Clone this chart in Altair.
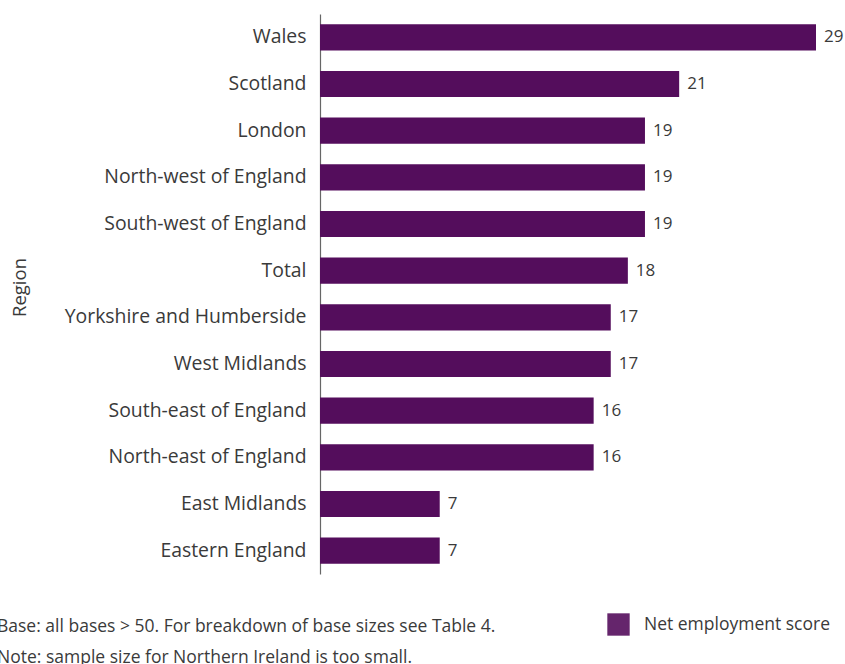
import altair as alt
import pandas as pd

regions = ["Wales", "Scotland", "London", "North-west of England", "South-west of England",
           "Total", "Yorkshire and Humberside", "West Midlands", "South-east of England",
           "North-east of England", "East Midlands", "Eastern England"]
scores = [29, 21, 19, 19, 19, 18, 17, 17, 16, 16, 7, 7]
series = "Net employment score"
notes = ["Base: all bases > 50. For breakdown of base sizes see Table 4.",
         "Note: sample size for Northern Ireland is too small."]

df = pd.DataFrame({"Region": regions, "Score": scores, "Series": [series] * len(regions)})

FONT = "Open Sans"
TXT = "#3a3a3a"
BAR = "#540d5c"

y = alt.Y("Region:N", sort=regions, title="Region",
          scale=alt.Scale(paddingInner=0.44, paddingOuter=0.22),
          axis=alt.Axis(ticks=False, labelFontSize=19.4, labelColor=TXT, labelFont=FONT,
                        labelPadding=14, labelLimit=400, domainColor="#666666", domainWidth=1.2,
                        titleFont=FONT, titleFontSize=18.5, titleFontWeight="normal",
                        titleColor=TXT, titleX=-301, titleY=273, titleAngle=270,
                        titleBaseline="middle", titleAlign="center"))
x = alt.X("Score:Q", scale=alt.Scale(domain=[0, 29], nice=False), axis=None)

bars = alt.Chart(df).mark_bar().encode(
    x=x, y=y,
    color=alt.Color("Series:N", scale=alt.Scale(range=[BAR]),
                    legend=alt.Legend(title=None, orient="none", legendX=287, legendY=599,
                                      symbolType="square", symbolSize=500, symbolOpacity=0.9,
                                      symbolStrokeWidth=0, labelLimit=400,
                                      labelFont=FONT, labelFontSize=17.5, labelColor=TXT,
                                      labelOffset=14))
)

labels = alt.Chart(df).mark_text(align="left", baseline="middle", dx=8, fontSize=17,
                                 font=FONT, color=TXT).encode(
    x=x, y=alt.Y("Region:N", sort=regions), text=alt.Text("Score:Q")
)

foot_layers = []
for i, n in enumerate(notes):
    foot_layers.append(
        alt.Chart(pd.DataFrame({"note": [n]})).mark_text(
            align="left", baseline="middle", fontSize=17.5, font=FONT, color=TXT
        ).encode(x=alt.value(-323), y=alt.value(613 + 31 * i), text="note:N")
    )

chart = alt.layer(bars, labels, *foot_layers).properties(
    width=496, height=560,
    autosize=alt.AutoSizeParams(type="none"),
    padding={"left": 320, "top": 14, "right": 29, "bottom": 90}
).configure_view(stroke=None)

chart.save("out.html", embed_options={"renderer": "svg", "actions": False})
